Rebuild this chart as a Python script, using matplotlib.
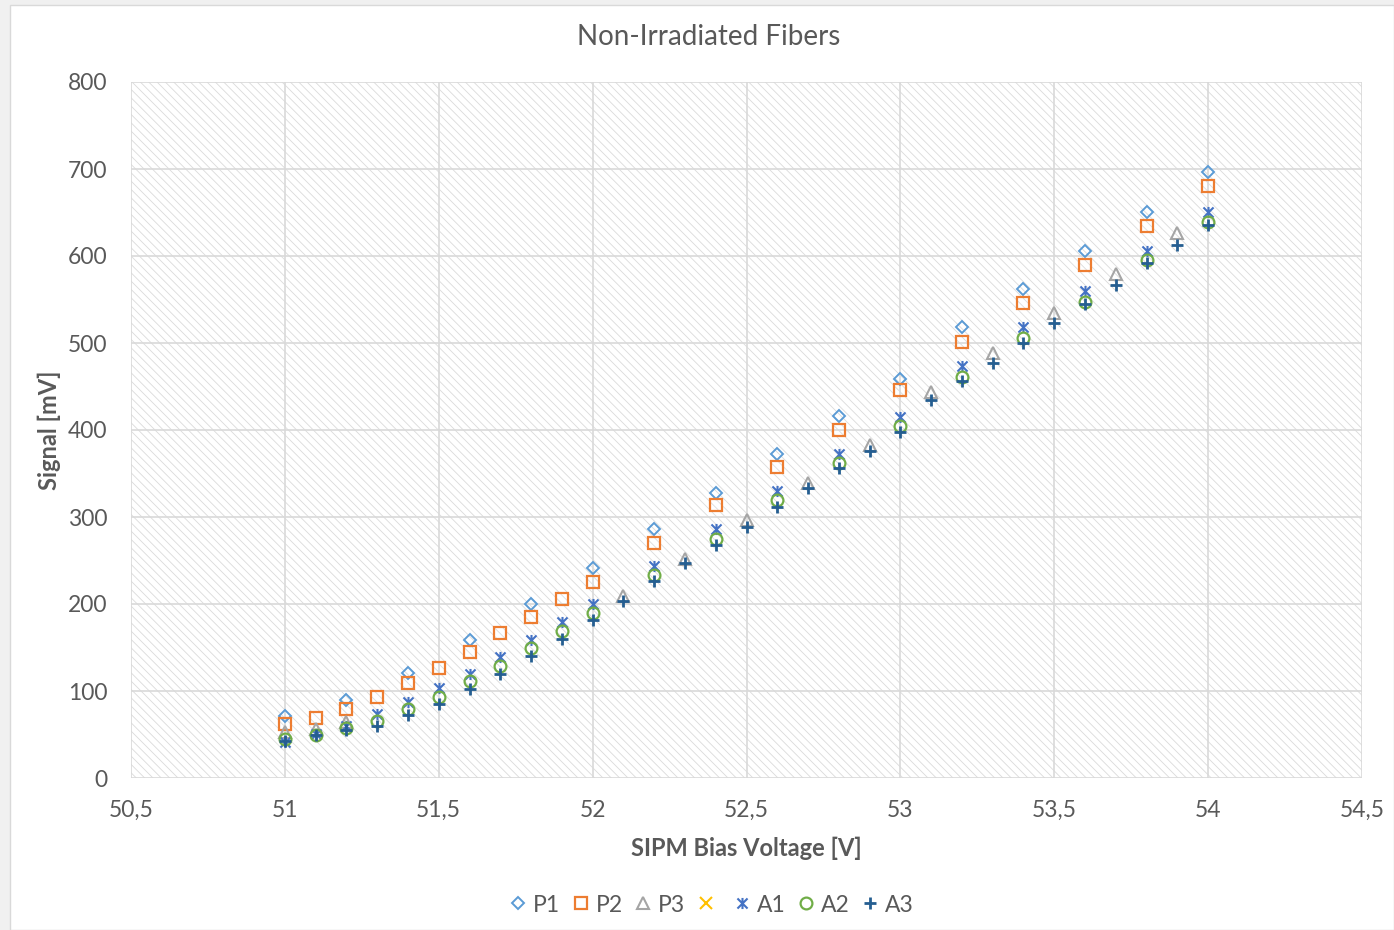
import matplotlib
matplotlib.use('Agg')
import matplotlib.pyplot as plt
from matplotlib.patches import Rectangle
from matplotlib.path import Path
from matplotlib.ticker import FuncFormatter
from matplotlib.lines import Line2D

# data
p1_v = [51.0, 51.2, 51.4, 51.6, 51.8, 52.0, 52.2, 52.4, 52.6, 52.8,
        53.0, 53.2, 53.4, 53.6, 53.8, 54.0]
p1_s = [71, 90, 121, 159, 200, 241, 286, 328, 372, 416,
        459, 518, 562, 606, 650, 696]

p2_v = [51.0, 51.1, 51.2, 51.3, 51.4, 51.5, 51.6, 51.7, 51.8, 51.9, 52.0,
        52.2, 52.4, 52.6, 52.8, 53.0, 53.2, 53.4, 53.6, 53.8, 54.0]
p2_s = [62, 69, 79, 93, 109, 127, 145, 167, 185, 206, 225,
        270, 314, 357, 400, 446, 501, 546, 590, 634, 680]

p3_v = [51.0, 51.1, 51.2, 52.1, 52.3, 52.5, 52.7, 52.9, 53.1, 53.3,
        53.5, 53.7, 53.9]
p3_s = [53, 56, 64, 209, 252, 297, 339, 383, 444, 489,
        534, 579, 627]

# fourth series has no visible points
empty_v = []
empty_s = []

a1_v = p2_v
a1_s = [41, 51, 60, 73, 87, 103, 120, 139, 159, 179, 200,
        244, 286, 330, 372, 415, 473, 518, 560, 606, 651]

a2_v = p2_v
a2_s = [45, 50, 57, 66, 79, 93, 111, 129, 149, 169, 190,
        233, 275, 319, 362, 405, 461, 506, 547, 595, 639]

a3_v = [51.0, 51.1, 51.2, 51.3, 51.4, 51.5, 51.6, 51.7, 51.8, 51.9, 52.0,
        52.1, 52.2, 52.3, 52.4, 52.5, 52.6, 52.7, 52.8, 52.9, 53.0,
        53.1, 53.2, 53.3, 53.4, 53.5, 53.6, 53.7, 53.8, 53.9, 54.0]
a3_s = [43, 50, 55, 60, 72, 85, 102, 120, 140, 160, 182,
        204, 226, 247, 268, 289, 312, 333, 356, 376, 398,
        434, 456, 477, 500, 523, 545, 567, 592, 613, 636]

x_ticks = [50.5, 51, 51.5, 52, 52.5, 53, 53.5, 54, 54.5]
y_ticks = [0, 100, 200, 300, 400, 500, 600, 700, 800]

plt.rcParams['font.family'] = ['Lato', 'DejaVu Sans']
plt.rcParams['hatch.linewidth'] = 0.6

txt = '#595959'
grid = '#d9d9d9'

# excel style star: an X with a vertical stroke
star = Path([(-1, -1), (1, 1), (-1, 1), (1, -1), (0, -1.1), (0, 1.1)],
            [Path.MOVETO, Path.LINETO, Path.MOVETO, Path.LINETO,
             Path.MOVETO, Path.LINETO])

W, H = 1394, 930
fig = plt.figure(figsize=(W / 100, H / 100), dpi=100, facecolor='#f0f0f0')
fig.patches.append(Rectangle((10 / W, 0), 1 - 10 / W, 1 - 5 / H,
                             transform=fig.transFigure, facecolor='white',
                             edgecolor=grid, lw=1, zorder=-10))

ax = fig.add_axes([131 / W, 1 - 778 / H, (1362 - 131) / W, (778 - 82) / H])
ax.set_facecolor('white')
ax.add_patch(Rectangle((0, 0), 1, 1, transform=ax.transAxes, facecolor='white',
                       edgecolor='#dadada', lw=0, hatch='\\\\\\\\', zorder=0))
ax.set_axisbelow(True)
ax.grid(True, color=grid, lw=1.2)
for s in ax.spines.values():
    s.set_visible(False)

series = [
    (p1_v, p1_s, 'P1', dict(marker='D', ms=6, mfc='none', mec='#5b9bd5', mew=1.4)),
    (p2_v, p2_s, 'P2', dict(marker='s', ms=8.5, mfc='none', mec='#ed7d31', mew=1.6)),
    (p3_v, p3_s, 'P3', dict(marker='^', ms=8.5, mfc='none', mec='#a5a5a5', mew=1.5)),
    (empty_v, empty_s, '', dict(marker='x', ms=8, mfc='none', mec='#ffc000', mew=1.5)),
    (a1_v, a1_s, 'A1', dict(marker=star, ms=8, mfc='none', mec='#4472c4', mew=1.5)),
    (a2_v, a2_s, 'A2', dict(marker='o', ms=8.5, mfc='none', mec='#70ad47', mew=1.6)),
    (a3_v, a3_s, 'A3', dict(marker='+', ms=9, mfc='none', mec='#255e91', mew=2)),
]

handles = []
labels = []
for v, s, name, st in series:
    ax.plot(v, s, ls='none', zorder=3, **st)
    handles.append(Line2D([], [], ls='none', **st))
    labels.append(name)

ax.set_xlim(50.5, 54.5)
ax.set_ylim(0, 800)
ax.set_xticks(x_ticks)
ax.set_yticks(y_ticks)
ax.xaxis.set_major_formatter(FuncFormatter(lambda x, p: ('%g' % x).replace('.', ',')))
ax.tick_params(length=0, labelsize=16.5, labelcolor=txt)
ax.tick_params(axis='x', pad=16)
ax.tick_params(axis='y', pad=17)

ax.set_xlabel('SIPM Bias Voltage [V]', fontsize=17, fontweight='bold', color=txt, labelpad=11)
ax.set_ylabel('Signal [mV]', fontsize=17, fontweight='bold', color=txt, labelpad=5)

fig.text(709 / W, 1 - 37 / H, 'Non-Irradiated Fibers', ha='center', va='center',
         fontsize=20, color=txt)

fig.legend(handles, labels, loc='center', bbox_to_anchor=(712 / W, 1 - 905 / H),
           ncol=7, frameon=False, fontsize=16.5, labelcolor=txt,
           handlelength=0.7, handletextpad=0.3, columnspacing=0.55)

fig.savefig('out.png', dpi=100, facecolor=fig.get_facecolor())
